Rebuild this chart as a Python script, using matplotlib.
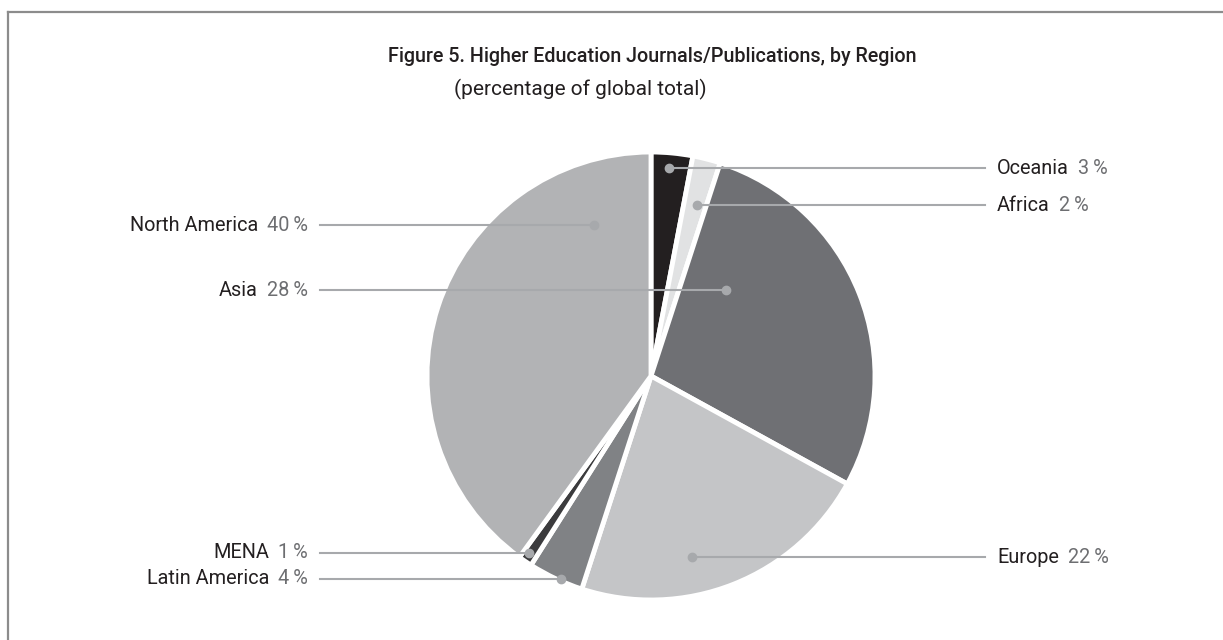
import numpy as np
from matplotlib import pyplot as plt
from matplotlib.lines import Line2D

regions = ["Oceania", "Africa", "Asia", "Europe", "Latin America", "MENA", "North America"]
shares = [3, 2, 28, 22, 4, 1, 40]
colors = ["#231f20", "#e1e2e3", "#6f7074", "#c4c5c7", "#808285", "#3b3b3d", "#b2b3b5"]

# where the marker dot sits inside each wedge: (fraction along the arc, fraction of radius)
dot_place = {
    "Oceania": (0.54, 0.93),
    "Africa": (0.40, 0.79),
    "Asia": (0.77, 0.51),
    "Europe": (0.39, 0.83),
    "Latin America": (0.58, 0.99),
    "MENA": (0.36, 0.96),
    "North America": (0.143, 0.72),
}
right_side = {"Oceania", "Africa", "Europe"}

W, H = 1223, 640
plt.rcParams["font.family"] = ["Roboto", "DejaVu Sans"]

fig = plt.figure(figsize=(W / 100, H / 100), dpi=100)
ax = fig.add_axes([0, 0, 1, 1])

wedges, _ = ax.pie(
    shares,
    colors=colors,
    startangle=90,
    counterclock=False,
    center=(651, H - 376),
    radius=224,
    wedgeprops=dict(edgecolor="white", linewidth=3.5),
)
ax.set_xlim(0, W)
ax.set_ylim(0, H)
ax.set_aspect("equal")
ax.axis("off")

# frame (only top and left edges are inside the picture)
fig.add_artist(Line2D([8 / W, 1], [1 - 12 / H, 1 - 12 / H], transform=fig.transFigure,
                      color="#8c8c8c", lw=1.6))
fig.add_artist(Line2D([8 / W, 8 / W], [1 - 12 / H, 0], transform=fig.transFigure,
                      color="#8c8c8c", lw=1.6))

ax.text(652, H - 57, "Figure 5. Higher Education Journals/Publications, by Region",
        ha="center", va="center", fontsize=14.2, fontweight="medium", color="#231f20")
ax.text(454, H - 89, "(percentage of global total)",
        ha="left", va="center", fontsize=15, color="#231f20")

line_col = "#a7a9ac"
name_col = "#231f20"
pct_col = "#6d6e71"
fs = 14.3

fig.canvas.draw()
renderer = fig.canvas.get_renderer()

for name, val, w in zip(regions, shares, wedges):
    frac, rfrac = dot_place[name]
    ang = np.radians(w.theta1 + frac * (w.theta2 - w.theta1))
    cx, cy = w.center
    dx = cx + rfrac * w.r * np.cos(ang)
    dy = cy + rfrac * w.r * np.sin(ang)
    pct = f"{val}\u2009%"
    if name in right_side:
        ax.plot([dx, 985], [dy, dy], color=line_col, lw=1.5, zorder=3)
        t = ax.text(997, dy, name, ha="left", va="center", fontsize=fs, color=name_col)
        bb = t.get_window_extent(renderer)
        ax.text(bb.x1 + 9, dy, pct, ha="left", va="center", fontsize=fs, color=pct_col)
    else:
        ax.plot([320, dx], [dy, dy], color=line_col, lw=1.5, zorder=3)
        t = ax.text(308, dy, pct, ha="right", va="center", fontsize=fs, color=pct_col)
        bb = t.get_window_extent(renderer)
        ax.text(bb.x0 - 9, dy, name, ha="right", va="center", fontsize=fs, color=name_col)
    ax.plot(dx, dy, "o", color=line_col, markersize=6, zorder=4)

fig.savefig("out.png", dpi=100)
plt.close(fig)
